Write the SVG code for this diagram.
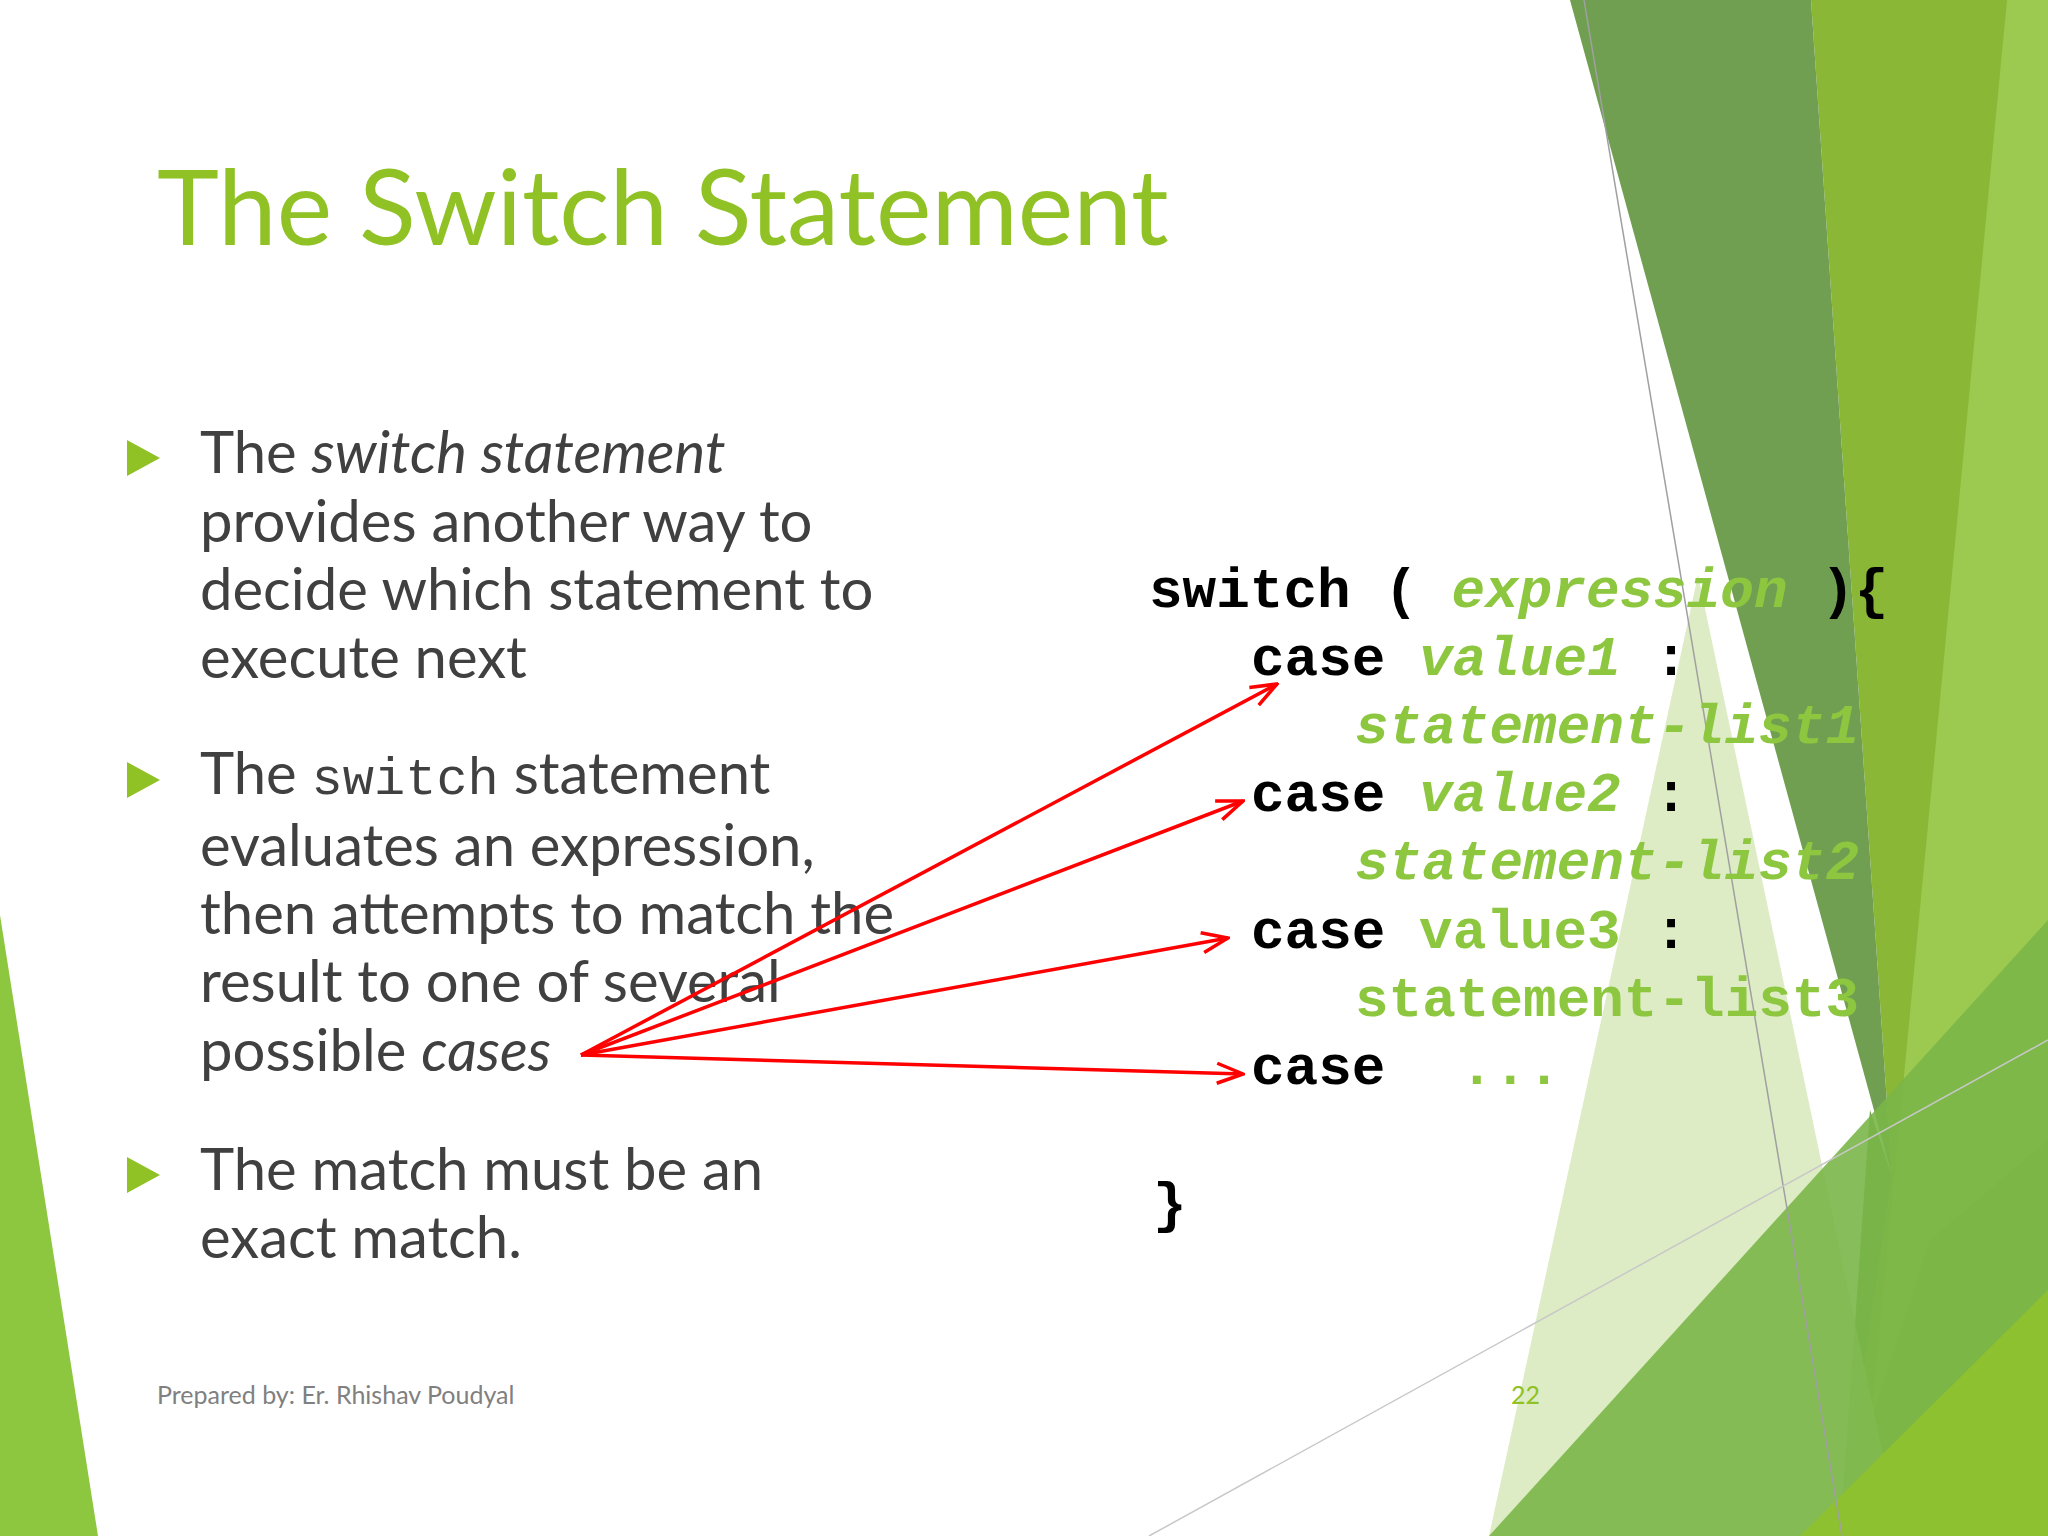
<svg xmlns="http://www.w3.org/2000/svg" width="2048" height="1536" viewBox="0 0 2048 1536">
<defs>
<style>
.body{font-family:"Lato","Open Sans",sans-serif;font-size:58px;fill:#404040}
.code{font-family:"Liberation Mono","Courier New",monospace;font-size:56px;font-weight:bold;fill:#000}
.code .g,.code.g{fill:#8dc63f;font-style:italic}
.code .gn,.code.gn{fill:#8dc63f}
.arr{stroke:#ff0000;stroke-width:3.5;fill:none;marker-end:url(#ah)}
</style>
<marker id="ah" viewBox="0 0 30 24" refX="28" refY="12" markerWidth="30" markerHeight="24" markerUnits="userSpaceOnUse" orient="auto">
<path d="M2,2 L28,12 L2,22" fill="none" stroke="#ff0000" stroke-width="3.5"/>
</marker>
</defs>
<rect width="2048" height="1536" fill="#fff"/>
<g id="background">
<polygon points="1811,0 2048,0 2048,1536 1840,1536 1892,1176" fill="#8ab735"/>
<polygon points="2007,0 2048,0 2048,1140 1930,1240 1871,1420" fill="#9cc94f"/>
<polygon points="1570,0 1811,0 1892,1176" fill="#719f52"/>
<polygon points="1892,1176 1840,1536 1870,1110" fill="#4e8a22" opacity="0.8"/>
<polygon points="1698,575 1489,1536 1900,1536" fill="#cfe4ad" opacity="0.7"/>
<polygon points="1489,1536 2048,920 2048,1536" fill="#7ab648" opacity="0.9"/>
<polygon points="1800,1536 2048,1290 2048,1536" fill="#8fc22c" opacity="0.9"/>
<polygon points="0,915 98,1536 0,1536" fill="#8dc63f"/>
<line x1="1584" y1="0" x2="1842" y2="1536" stroke="#a0a0a0" stroke-width="1.5"/>
<line x1="1149" y1="1536" x2="2048" y2="1040" stroke="#c8c8c8" stroke-width="1.5"/>
</g>
<g id="title"><text x="157" y="245" font-family="Lato,'Open Sans',sans-serif" font-size="105" fill="#90c226">The Switch Statement</text></g>
<g id="bullets">
<polygon points="127,440 160,458 127,476" fill="#90c226"/>
<polygon points="127,762 160,780 127,798" fill="#90c226"/>
<polygon points="127,1157 160,1175 127,1193" fill="#90c226"/>
<text class="body" x="200" y="473">The <tspan font-style="italic">switch statement</tspan></text>
<text class="body" x="200" y="542">provides another way to</text>
<text class="body" x="200" y="610">decide which statement to</text>
<text class="body" x="200" y="678">execute next</text>
<text class="body" x="200" y="794">The <tspan font-family="Liberation Mono,monospace" font-size="52">switch</tspan> statement</text>
<text class="body" x="200" y="866">evaluates an expression,</text>
<text class="body" x="200" y="934">then attempts to match the</text>
<text class="body" x="200" y="1002">result to one of several</text>
<text class="body" x="200" y="1071">possible <tspan font-style="italic">cases</tspan></text>
<text class="body" x="200" y="1190">The match must be an</text>
<text class="body" x="200" y="1258">exact match.</text>
</g>
<g id="code">
<text class="code" x="1149" y="607">switch ( <tspan class="g">expression</tspan> ){</text>
<text class="code" x="1251" y="675">case <tspan class="g">value1</tspan> :</text>
<text class="code g" x="1355" y="743">statement-list1</text>
<text class="code" x="1251" y="811">case <tspan class="g">value2</tspan> :</text>
<text class="code g" x="1355" y="879">statement-list2</text>
<text class="code" x="1251" y="948">case <tspan class="gn">value3</tspan> :</text>
<text class="code gn" x="1355" y="1016">statement-list3</text>
<text class="code" x="1251" y="1084">case</text>
<text class="code gn" x="1460" y="1084">...</text>
<text class="code" x="1153" y="1221">}</text>
</g>
<g id="connectors">
<line class="arr" x1="581" y1="1055" x2="1277" y2="684"/>
<line class="arr" x1="581" y1="1055" x2="1243" y2="801"/>
<line class="arr" x1="581" y1="1055" x2="1228" y2="938"/>
<line class="arr" x1="581" y1="1055" x2="1243" y2="1074"/>
</g>
<g id="footer">
<text x="157" y="1404" font-family="Lato,'Open Sans',sans-serif" font-size="25" fill="#808080">Prepared by: Er. Rhishav Poudyal</text>
<text x="1511" y="1404" font-family="Lato,'Open Sans',sans-serif" font-size="25" fill="#90c226">22</text>
</g>
</svg>
